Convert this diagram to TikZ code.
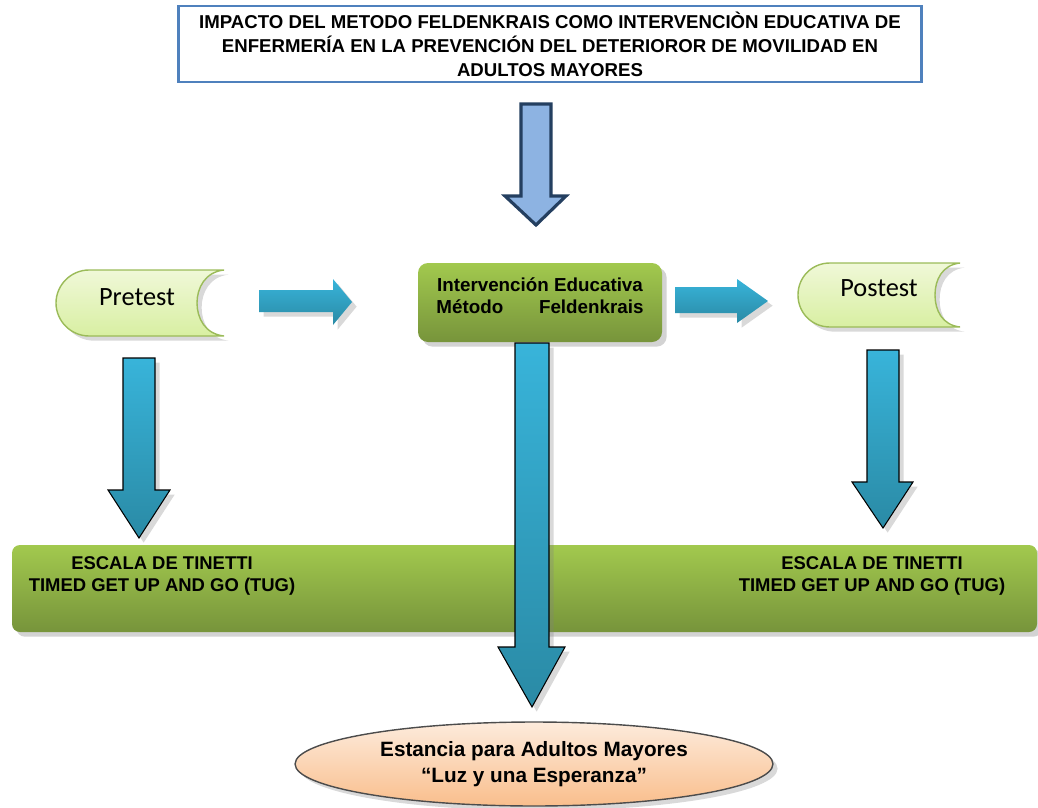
\documentclass[tikz,border=0pt]{standalone}
\usepackage{fontspec}
\setmainfont{Liberation Sans}
\newfontfamily\calibrifont{Carlito}
\usetikzlibrary{shapes.geometric,shadows}

\definecolor{titleblue}{HTML}{4F81BD}
\definecolor{paleblue}{HTML}{8DB3E2}
\definecolor{navyline}{HTML}{243F60}
\definecolor{cyantop}{HTML}{38B4DA}
\definecolor{cyanbot}{HTML}{2A8AA5}
\definecolor{leaftop}{HTML}{A2C94E}
\definecolor{leafbot}{HTML}{77943B}
\definecolor{mintop}{HTML}{F0F8D8}
\definecolor{minbot}{HTML}{D8EFA2}
\definecolor{minline}{HTML}{9BBB59}
\definecolor{peachtop}{HTML}{FDEBDC}
\definecolor{peachbot}{HTML}{F9BE8C}

\begin{document}
\begin{tikzpicture}[x=0.02cm, y=-0.02cm,
    boldtext/.style={align=center, font=\bfseries\fontsize{10.5}{12.5}\selectfont},
    cyanarrow/.style={draw=black, line width=0.6pt, top color=cyantop, bottom color=cyanbot, drop shadow={opacity=0.3}},
    flatarrow/.style={top color=cyantop, bottom color=cyanbot, drop shadow={opacity=0.3}},
    softgreen/.style={draw=minline, line width=0.8pt, top color=mintop, bottom color=minbot, drop shadow={opacity=0.3}},
    leafbox/.style={top color=leaftop, bottom color=leafbot, drop shadow={opacity=0.35}}]
    \useasboundingbox (0,0) rectangle (1038,808);

    \node[draw=titleblue, line width=1.4pt, minimum width=14.86cm, minimum height=1.44cm, boldtext, font=\bfseries\fontsize{10.6}{13.6}\selectfont] (title) at (550,44)
        {IMPACTO DEL METODO FELDENKRAIS COMO INTERVENCIÒN EDUCATIVA DE\\ENFERMERÍA EN LA PREVENCIÓN DEL DETERIOROR DE MOVILIDAD EN\\ADULTOS MAYORES};

    \draw[navyline, line width=1.8pt, fill=paleblue] (521,104) -- (551,104) -- (551,196) -- (566,196) -- (536,225) -- (505,196) -- (521,196) -- cycle;

    \path[softgreen] (224,270) -- (89,270) .. controls (71,270) and (56,285) .. (56,303) .. controls (56,321) and (71,336) .. (89,336) -- (224,336) .. controls (205,334) and (197,318) .. (197,303) .. controls (197,288) and (205,272) .. cycle;
    \node[font=\calibrifont\fontsize{15}{18}\selectfont] (pretest) at (137,297) {Pretest};

    \path[flatarrow] (259,290) -- (333,290) -- (333,279) -- (352,302) -- (333,325) -- (333,312) -- (259,312) -- cycle;

    \path[leafbox, rounded corners=0.2cm] (418,263) rectangle (662,342);
    \node[boldtext, font=\bfseries\fontsize{10.7}{12.5}\selectfont] (metodo) at (540,296) {Intervención Educativa\\Método\hspace{1.9em}Feldenkrais};

    \path[flatarrow] (675,287) -- (737,287) -- (737,279) -- (768,301) -- (737,323) -- (737,313) -- (675,313) -- cycle;

    \path[softgreen] (960,263) -- (830,263) .. controls (812,263) and (798,277) .. (798,295) .. controls (798,313) and (812,327) .. (830,327) -- (960,327) .. controls (942,325) and (935,310) .. (935,295) .. controls (935,280) and (942,265) .. cycle;
    \node[font=\calibrifont\fontsize{15}{18}\selectfont] (postest) at (879,288) {Postest};

    \path[cyanarrow] (123,358) -- (155,358) -- (155,490) -- (170,490) -- (139,538) -- (108,490) -- (123,490) -- cycle;
    \path[cyanarrow] (867,350) -- (899,350) -- (899,482) -- (913,482) -- (883,528) -- (852,482) -- (867,482) -- cycle;

    \path[leafbox, rounded corners=0.16cm] (12,545) rectangle (1037,632);
    \node[boldtext] (escalaL) at (162,576) {ESCALA DE TINETTI\\TIMED GET UP AND GO (TUG)};
    \node[boldtext] (escalaR) at (872,576) {ESCALA DE TINETTI\\TIMED GET UP AND GO (TUG)};

    \path[cyanarrow] (515,343) -- (549,343) -- (549,647) -- (565,647) -- (532,707) -- (498,647) -- (515,647) -- cycle;

    \node[ellipse, draw=black!70, line width=0.8pt, top color=peachtop, bottom color=peachbot, minimum width=9.56cm, minimum height=1.68cm, inner sep=0pt, drop shadow={opacity=0.3}, boldtext, font=\bfseries\fontsize{11.8}{14.7}\selectfont] (estancia) at (534,764)
        {Estancia para Adultos Mayores\\“Luz y una Esperanza”};
\end{tikzpicture}
\end{document}
